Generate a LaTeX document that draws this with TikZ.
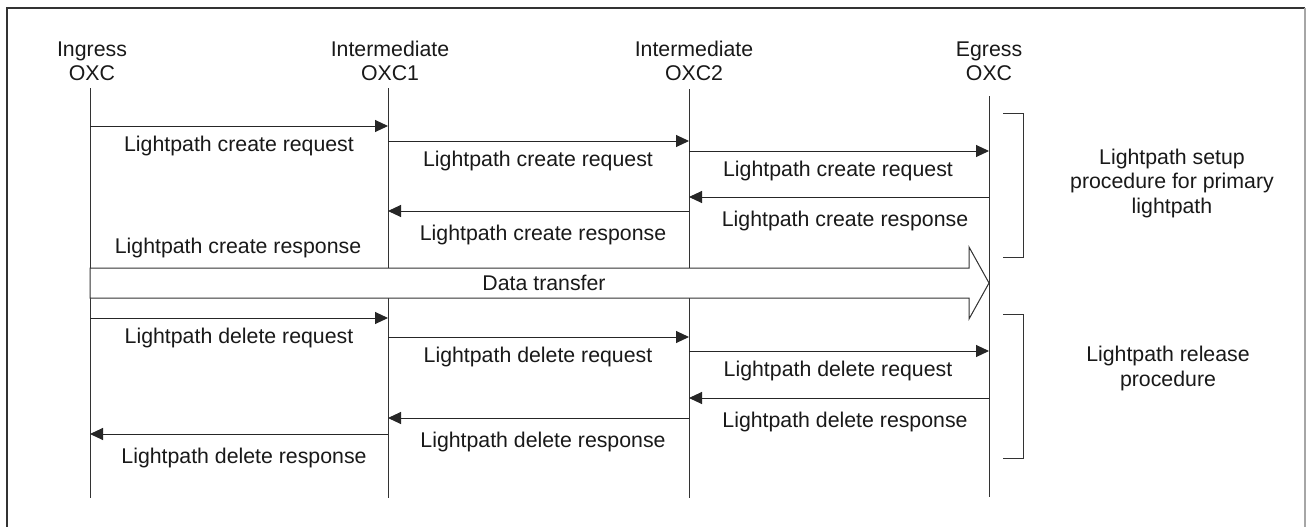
\documentclass[tikz,border=0pt]{standalone}
\usepackage{fontspec}
\setmainfont{Liberation Sans}
\usetikzlibrary{arrows.meta}
\begin{document}
\begin{tikzpicture}[x=1pt,y=-1pt,
  txt/.style={font=\fontsize{21.3}{24.5}\selectfont, text=black!90, inner sep=0pt},
  hdr/.style={txt, align=center, anchor=base},
  lbl/.style={txt, anchor=base},
  lifeline/.style={draw=black!80, line width=1pt},
  msg/.style={draw=black!85, line width=1pt, -{Triangle[length=13pt,width=12pt]}},
  brace/.style={draw=black!80, line width=1pt},
  bigarrow/.style={draw=black!80, line width=1pt, fill=white}]

% page and frame
\fill[white] (0,0) rectangle (1306,527);
\useasboundingbox (0,0) rectangle (1306,527);
\draw[black!80, line width=1.5pt] (7,527) -- (7,8) -- (1305,8);
\draw[black!35, line width=1.5pt] (1305,8) -- (1305,527);

% entity headers (anchored on the baseline of the last line)
\node[hdr] (ing)  at (92,81)  {Ingress\\OXC};
\node[hdr] (oxc1) at (390,81) {Intermediate\\OXC1};
\node[hdr] (oxc2) at (694,81) {Intermediate\\OXC2};
\node[hdr] (egr)  at (989,81) {Egress\\OXC};

% lifelines
\coordinate (ingT) at (90,88);   \coordinate (ingB) at (90,498);
\coordinate (o1T)  at (388,88);  \coordinate (o1B)  at (388,498);
\coordinate (o2T)  at (689,89);  \coordinate (o2B)  at (689,498);
\coordinate (egT)  at (989,96);  \coordinate (egB)  at (989,497);
\draw[lifeline] (ingT) -- (ingB);
\draw[lifeline] (o1T) -- (o1B);
\draw[lifeline] (o2T) -- (o2B);
\draw[lifeline] (egT) -- (egB);

% lightpath setup
\draw[msg] (ingT |- 0,126) -- (o1T |- 0,126);
\node[lbl] (c1) at (239,151) {Lightpath create request};
\draw[msg] (o1T |- 0,141) -- (o2T |- 0,141);
\node[lbl] (c2) at (538,166) {Lightpath create request};
\draw[msg] (o2T |- 0,151) -- (egT |- 0,151);
\node[lbl] (c3) at (838,176) {Lightpath create request};
\draw[msg] (egT |- 0,197) -- (o2T |- 0,197);
\node[lbl] (r1) at (845,226) {Lightpath create response};
\draw[msg] (o2T |- 0,211) -- (o1T |- 0,211);
\node[lbl] (r2) at (543,240) {Lightpath create response};
\node[lbl] (r3) at (238,253) {Lightpath create response};

% data transfer
\draw[bigarrow] (ingT |- 0,268) -- (969,268) -- (969,247) -- (egT |- 0,283)
  -- (969,319) -- (969,298) -- (ingT |- 0,298) -- cycle;
\node[lbl] (data) at (544,290) {Data transfer};

% lightpath release
\draw[msg] (ingT |- 0,318) -- (o1T |- 0,318);
\node[lbl] (d1) at (239,343) {Lightpath delete request};
\draw[msg] (o1T |- 0,337) -- (o2T |- 0,337);
\node[lbl] (d2) at (538,362) {Lightpath delete request};
\draw[msg] (o2T |- 0,351) -- (egT |- 0,351);
\node[lbl] (d3) at (838,376) {Lightpath delete request};
\draw[msg] (egT |- 0,398) -- (o2T |- 0,398);
\node[lbl] (e1) at (845,427) {Lightpath delete response};
\draw[msg] (o2T |- 0,418) -- (o1T |- 0,418);
\node[lbl] (e2) at (543,447) {Lightpath delete response};
\draw[msg] (o1T |- 0,434) -- (ingT |- 0,434);
\node[lbl] (e3) at (244,463) {Lightpath delete response};

% procedure brackets
\draw[brace] (1003,113) -- (1023,113) -- (1023,257) -- (1003,257);
\node[hdr] (setup) at (1172,213) {Lightpath setup\\procedure for primary\\lightpath};
\draw[brace] (1003,314) -- (1023,314) -- (1023,458) -- (1003,458);
\node[hdr] (release) at (1168,386) {Lightpath release\\procedure};
\end{tikzpicture}
\end{document}
